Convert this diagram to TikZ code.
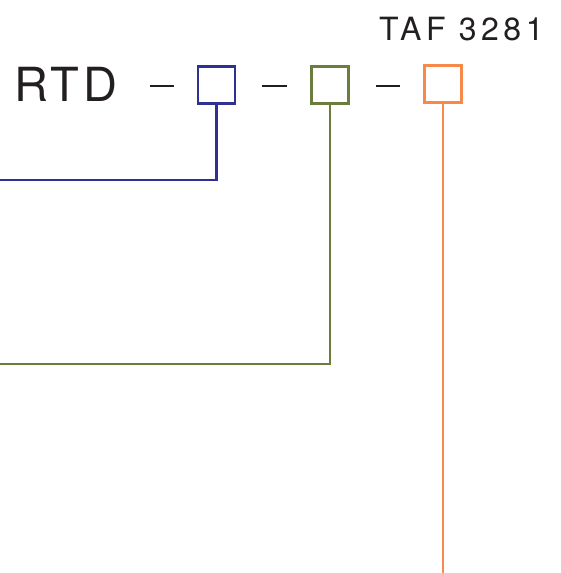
\documentclass[tikz,border=0pt]{standalone}
\usepackage{fontspec}
\setmainfont{TeX Gyre Heros}
\newfontfamily\spaced[LetterSpace=8]{TeX Gyre Heros}
\newfontfamily\wide[LetterSpace=14]{TeX Gyre Heros}
\definecolor{cblue}{HTML}{2E3192}
\definecolor{cgreen}{HTML}{6B7D3E}
\definecolor{corange}{HTML}{F7894A}
\definecolor{ctext}{HTML}{231F20}
\begin{document}
\begin{tikzpicture}[x=1pt,y=-1pt,
  sq/.style={draw,line width=2.2pt,minimum size=37pt,inner sep=0pt,fill=white},
  dsh/.style={draw=ctext,line width=2.6pt},
  lead/.style={line width=2.2pt}]
\useasboundingbox (0,0) rectangle (560,573);
\node[anchor=base west,inner sep=0pt,text=ctext,font=\spaced\fontsize{47}{47}\selectfont] (rtd) at (14,101.7) {RTD};
\node[anchor=base west,inner sep=0pt,text=ctext,font=\wide\fontsize{32}{32}\selectfont] (taf) at (379,40.7) {TAF 3281};
\node[sq,draw=cblue] (b) at (216.5,85) {};
\node[sq,draw=cgreen] (g) at (330,85) {};
\node[sq,draw=corange] (o) at (443,84) {};
\coordinate (d1a) at (150,86); \coordinate (d1b) at (174,86);
\coordinate (d2a) at (262,86); \coordinate (d2b) at (287,86);
\coordinate (d3a) at (376,86); \coordinate (d3b) at (400,86);
\draw[dsh] (d1a) -- (d1b);
\draw[dsh] (d2a) -- (d2b);
\draw[dsh] (d3a) -- (d3b);
\coordinate (bl) at (0,179.7);
\coordinate (gl) at (0,364.3);
\coordinate (ol) at (443,575);
\draw[lead,cblue] (b.south) |- (bl);
\draw[lead,cgreen] (g.south) |- (gl);
\draw[lead,corange] (o.south) -- (ol);
\end{tikzpicture}
\end{document}
